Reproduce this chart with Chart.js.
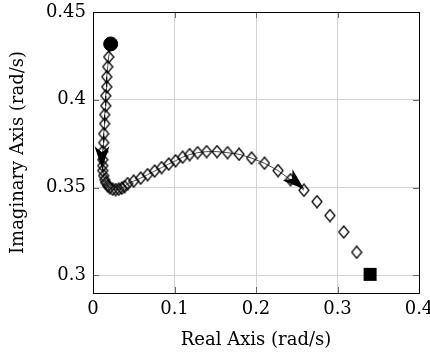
<!DOCTYPE html>
<html>
<head>
<meta charset="utf-8">
<script src="https://cdn.jsdelivr.net/npm/chart.js@4/dist/chart.umd.min.js"></script>
<style>
  body { margin: 0; background: #fff; }
  #chartBox { width: 430px; height: 357px; }
</style>
</head>
<body>
<div id="chartBox"><canvas id="locusChart" width="430" height="357"></canvas></div>
<script>
// root locus trace
var realPart = [
  0.0192, 0.0180, 0.0168, 0.0168, 0.0156, 0.0156, 0.0143, 0.0143, 0.0131, 0.0131,
  0.0119, 0.0119, 0.0119, 0.0119, 0.0131, 0.0143, 0.0156, 0.0180, 0.0205, 0.0241,
  0.0278, 0.0315, 0.0352, 0.0388, 0.0425, 0.0499, 0.0585, 0.0670, 0.0756, 0.0842,
  0.0928, 0.1013, 0.1099, 0.1185, 0.1283, 0.1394, 0.1522, 0.1651, 0.1792, 0.1945,
  0.2104, 0.2270, 0.2423, 0.2588, 0.2748, 0.2907, 0.3076, 0.3235
];
var imagPart = [
  0.4244, 0.4188, 0.4131, 0.4074, 0.4023, 0.3966, 0.3915, 0.3864, 0.3807, 0.3756,
  0.3705, 0.3659, 0.3625, 0.3597, 0.3568, 0.3545, 0.3528, 0.3511, 0.3500, 0.3491,
  0.3489, 0.3491, 0.3497, 0.3506, 0.3523, 0.3537, 0.3554, 0.3574, 0.3594, 0.3614,
  0.3634, 0.3653, 0.3673, 0.3688, 0.3699, 0.3705, 0.3705, 0.3699, 0.3690, 0.3668,
  0.3639, 0.3597, 0.3545, 0.3485, 0.3420, 0.3341, 0.3247, 0.3132
];
var startPoint = [0.0217, 0.4318];
var endPoint = [0.34, 0.3006];
var lineEndIndex = 43; // thin line stops at the second arrow
// arrows: [fromX, fromY, toX, toY]
var arrows = [
  [0.0110, 0.3740, 0.0110, 0.3610],
  [0.2370, 0.3580, 0.2592, 0.3491]
];
var xTickValues = [0, 0.1, 0.2, 0.3, 0.4];
var xTickLabels = ['0', '0.1', '0.2', '0.3', '0.4'];
var yTickValues = [0.3, 0.35, 0.4, 0.45];
var yTickLabels = ['0.3', '0.35', '0.4', '0.45'];

var fontFamily = '"DejaVu Serif", serif';

function toPoints(xs, ys) {
  return xs.map(function (x, i) { return { x: x, y: ys[i] }; });
}

// pgfplots style diamond, a bit taller than wide
function diamondMark() {
  var c = document.createElement('canvas');
  c.width = 12;
  c.height = 14;
  var g = c.getContext('2d');
  g.strokeStyle = '#000';
  g.lineWidth = 1.25;
  g.beginPath();
  g.moveTo(6, 1);
  g.lineTo(11, 7);
  g.lineTo(6, 13);
  g.lineTo(1, 7);
  g.closePath();
  g.stroke();
  return c;
}

var linePoints = [{ x: startPoint[0], y: startPoint[1] }].concat(
  toPoints(realPart, imagPart).slice(0, lineEndIndex + 1)
);

var framePlugin = {
  id: 'framePlugin',
  beforeDatasetsDraw: function (chart) {
    var ctx = chart.ctx;
    var a = chart.chartArea;
    var xs = chart.scales.x;
    var ys = chart.scales.y;
    ctx.save();
    ctx.strokeStyle = '#666';
    ctx.lineWidth = 1;
    ctx.beginPath();
    xTickValues.forEach(function (v) {
      var px = Math.round(xs.getPixelForValue(v)) + 0.5;
      ctx.moveTo(px, a.bottom);
      ctx.lineTo(px, a.bottom - 6);
      ctx.moveTo(px, a.top);
      ctx.lineTo(px, a.top + 6);
    });
    yTickValues.forEach(function (v) {
      var py = Math.round(ys.getPixelForValue(v)) + 0.5;
      ctx.moveTo(a.left, py);
      ctx.lineTo(a.left + 6, py);
      ctx.moveTo(a.right, py);
      ctx.lineTo(a.right - 6, py);
    });
    ctx.stroke();
    ctx.strokeStyle = '#000';
    ctx.strokeRect(Math.round(a.left) + 0.5, Math.round(a.top) + 0.5,
      Math.round(a.right - a.left), Math.round(a.bottom - a.top));
    ctx.restore();
  },
  afterDatasetsDraw: function (chart) {
    var ctx = chart.ctx;
    var xs = chart.scales.x;
    var ys = chart.scales.y;
    ctx.save();
    ctx.fillStyle = '#000';
    arrows.forEach(function (ar) {
      var x0 = xs.getPixelForValue(ar[0]), y0 = ys.getPixelForValue(ar[1]);
      var x1 = xs.getPixelForValue(ar[2]), y1 = ys.getPixelForValue(ar[3]);
      var ang = Math.atan2(y1 - y0, x1 - x0);
      var len = 22, half = 7.5, notch = 6;
      ctx.translate(x1, y1);
      ctx.rotate(ang);
      ctx.beginPath();
      ctx.moveTo(0, 0);
      ctx.lineTo(-len, -half);
      ctx.lineTo(-len + notch, 0);
      ctx.lineTo(-len, half);
      ctx.closePath();
      ctx.fill();
      ctx.setTransform(1, 0, 0, 1, 0, 0);
    });
    ctx.restore();
  }
};

var ctx = document.getElementById('locusChart').getContext('2d');
var locusChart = new Chart(ctx, {
  type: 'scatter',
  data: {
    datasets: [
      {
        label: 'path',
        data: linePoints,
        showLine: true,
        borderColor: '#000',
        borderWidth: 0.7,
        pointRadius: 0,
        fill: false,
        order: 3
      },
      {
        label: 'locus',
        data: toPoints(realPart, imagPart),
        pointStyle: diamondMark(),
        pointRadius: 6,
        order: 2
      },
      {
        label: 'start',
        data: [{ x: startPoint[0], y: startPoint[1] }],
        pointStyle: 'circle',
        pointRadius: 7,
        backgroundColor: '#000',
        borderColor: '#000',
        order: 1
      },
      {
        label: 'end',
        data: [{ x: endPoint[0], y: endPoint[1] }],
        pointStyle: 'rect',
        pointRadius: 9.2,
        backgroundColor: '#000',
        borderColor: '#000',
        borderWidth: 0,
        order: 1
      }
    ]
  },
  plugins: [framePlugin],
  options: {
    responsive: false,
    animation: false,
    devicePixelRatio: 1,
    layout: { padding: { top: 12, right: 11, left: 0, bottom: 0 } },
    plugins: {
      legend: { display: false },
      tooltip: { enabled: false }
    },
    scales: {
      x: {
        type: 'linear',
        min: 0,
        max: 0.4,
        afterFit: function (scale) {
          scale.height = 64;
          scale.paddingLeft = 0;
          scale.paddingRight = 0;
        },
        afterBuildTicks: function (scale) {
          scale.ticks = xTickValues.map(function (v) { return { value: v }; });
        },
        ticks: {
          padding: 6,
          color: '#000',
          font: { family: fontFamily, size: 18 },
          callback: function (v) {
            var i = xTickValues.indexOf(v);
            return i >= 0 ? xTickLabels[i] : '';
          }
        },
        grid: { color: '#d3d3d3', drawTicks: false },
        border: { color: '#000' },
        title: {
          display: true,
          text: 'Real Axis (rad/s)',
          color: '#000',
          font: { family: fontFamily, size: 18 },
          padding: { top: 0, bottom: 6 }
        }
      },
      y: {
        type: 'linear',
        min: 0.29,
        max: 0.45,
        afterFit: function (scale) {
          scale.width = 93;
          scale.paddingTop = 0;
          scale.paddingBottom = 0;
        },
        afterBuildTicks: function (scale) {
          scale.ticks = yTickValues.map(function (v) { return { value: v }; });
        },
        ticks: {
          padding: 7,
          color: '#000',
          font: { family: fontFamily, size: 18 },
          callback: function (v) {
            var i = yTickValues.indexOf(v);
            return i >= 0 ? yTickLabels[i] : '';
          }
        },
        grid: { color: '#d3d3d3', drawTicks: false },
        border: { color: '#000' },
        title: {
          display: true,
          text: 'Imaginary Axis (rad/s)',
          color: '#000',
          font: { family: fontFamily, size: 18 },
          padding: { top: 8, bottom: 0 }
        }
      }
    }
  }
});
</script>
</body>
</html>
